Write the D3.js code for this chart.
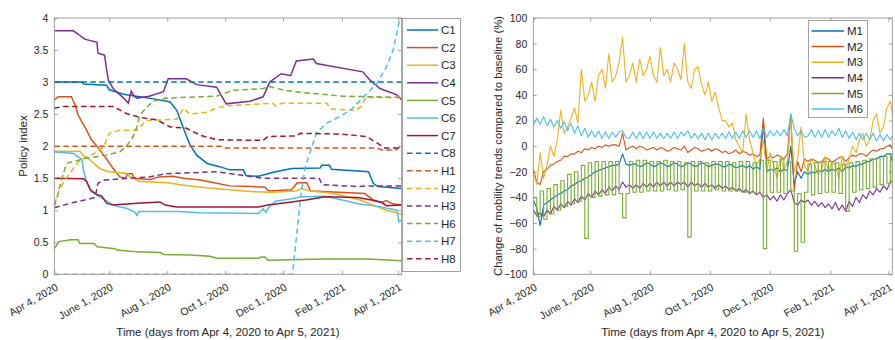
<!DOCTYPE html>
<html><head><meta charset="utf-8">
<script src="https://cdn.jsdelivr.net/npm/d3@7"></script>
<style>
body{margin:0;background:#fff}
svg{display:block}
text{font-family:"Liberation Sans",Arial,Helvetica,sans-serif;fill:#262626}
</style>
</head><body>
<svg id="c" width="895" height="340"></svg>
<script>
// ---------- shared tick data ----------
const tickDays   = [0, 58, 119, 180, 241, 303, 362];
const tickLabels = ["Apr 4, 2020","June 1, 2020","Aug 1, 2020","Oct 1, 2020","Dec 1, 2020","Feb 1, 2021","Apr 1, 2021"];
const policyTicks   = [0,0.5,1,1.5,2,2.5,3,3.5,4];
const mobilityTicks = [-100,-80,-60,-40,-20,0,20,40,60,80,100];

// ---------- left panel: policy index, [day, value] ----------
const policyNames = ["C1","C2","C3","C4","C5","C6","C7","C8","H1","H2","H3","H6","H7","H8"];
const C1 = [[0,3.0],[29,3.0],[31,2.97],[55,2.95],[58,2.88],[73,2.81],[90,2.77],[108,2.73],[122,2.69],[129,2.56],[134,2.36],[138,2.2],[143,2.02],[150,1.86],[161,1.73],[174,1.68],[185,1.63],[199,1.63],[202,1.54],[215,1.53],[233,1.6],[250,1.65],[280,1.66],[282,1.7],[290,1.7],[292,1.64],[331,1.6],[336,1.42],[341,1.37],[366,1.34]];
const C2 = [[0,2.72],[4,2.77],[18,2.77],[22,2.64],[25,2.49],[29,2.38],[34,2.25],[39,2.1],[45,2.0],[52,1.86],[57,1.76],[62,1.65],[69,1.52],[75,1.5],[77,1.57],[82,1.57],[84,1.5],[101,1.48],[110,1.52],[125,1.53],[136,1.5],[154,1.47],[171,1.42],[185,1.38],[208,1.37],[222,1.36],[226,1.3],[250,1.32],[256,1.43],[266,1.43],[270,1.3],[300,1.28],[327,1.26],[336,1.16],[345,1.12],[350,1.15],[356,1.1],[366,1.08]];
const C3 = [[0,1.92],[27,1.92],[30,1.86],[38,1.78],[48,1.65],[57,1.6],[74,1.58],[80,1.52],[90,1.45],[120,1.43],[136,1.39],[160,1.35],[185,1.32],[210,1.29],[230,1.28],[255,1.3],[260,1.34],[270,1.3],[290,1.27],[300,1.24],[322,1.16],[339,1.06],[350,1.0],[359,0.97],[366,0.93]];
const C4 = [[0,3.8],[20,3.8],[25,3.75],[32,3.67],[45,3.62],[46,3.45],[53,3.42],[55,3.2],[57,3.03],[62,2.9],[73,2.75],[78,2.67],[81,2.86],[84,2.78],[87,2.75],[100,2.78],[115,2.85],[120,3.05],[139,3.05],[150,2.96],[171,2.92],[181,2.66],[206,2.7],[220,2.77],[227,3.0],[239,3.13],[249,3.1],[255,3.33],[273,3.36],[276,3.29],[325,3.16],[332,3.04],[343,2.9],[361,2.8],[366,2.72]];
const C5 = [[0,0.4],[5,0.51],[17,0.54],[25,0.54],[27,0.48],[42,0.48],[45,0.43],[64,0.4],[66,0.38],[87,0.35],[112,0.34],[115,0.31],[143,0.3],[164,0.28],[171,0.25],[215,0.25],[218,0.27],[222,0.27],[225,0.22],[260,0.23],[285,0.24],[330,0.24],[366,0.21]];
const C6 = [[0,1.91],[20,1.89],[24,1.84],[29,1.8],[31,1.6],[34,1.45],[39,1.29],[45,1.24],[50,1.19],[59,1.11],[66,1.06],[76,1.03],[85,0.97],[87,0.92],[89,0.98],[130,0.98],[154,0.96],[215,0.95],[220,1.02],[223,0.97],[226,1.05],[233,1.14],[250,1.18],[260,1.21],[285,1.22],[300,1.17],[320,1.1],[341,1.06],[361,1.0],[363,0.82],[366,0.85]];
const C7 = [[0,1.5],[31,1.49],[34,1.45],[38,1.32],[45,1.24],[50,1.22],[55,1.11],[62,1.08],[87,1.11],[111,1.13],[117,1.08],[129,1.05],[215,1.05],[225,1.08],[250,1.13],[265,1.16],[285,1.21],[320,1.2],[334,1.16],[345,1.12],[350,1.07],[366,1.08]];
const C8 = [[0,3.0],[366,3.0]];
const H1 = [[0,2.0],[175,2.0],[178,1.97],[340,1.97],[345,1.94],[360,1.94],[363,1.98],[366,1.98]];
const H2 = [[0,1.1],[5,1.3],[10,1.45],[15,1.55],[20,1.65],[25,1.75],[29,1.8],[38,1.85],[46,1.92],[52,1.99],[58,2.2],[69,2.25],[87,2.25],[97,2.4],[129,2.42],[136,2.59],[143,2.5],[161,2.53],[171,2.6],[182,2.63],[230,2.67],[233,2.63],[240,2.67],[287,2.67],[291,2.58],[318,2.56],[323,2.62],[328,2.76],[366,2.76]];
const H3 = [[0,1.04],[20,1.12],[35,1.17],[43,1.2],[46,1.42],[52,1.47],[100,1.52],[118,1.57],[171,1.6],[196,1.55],[220,1.5],[259,1.5],[279,1.5],[282,1.4],[320,1.37],[328,1.38],[366,1.38]];
const H6 = [[0,1.06],[3,1.2],[6,1.39],[10,1.6],[13,1.73],[20,1.76],[30,1.8],[55,1.86],[69,1.91],[76,2.0],[83,2.15],[87,2.3],[90,2.48],[97,2.6],[104,2.7],[118,2.75],[171,2.78],[188,2.87],[220,2.9],[227,2.93],[240,2.88],[259,2.84],[304,2.78],[340,2.77],[366,2.76]];
const H7 = [[0,0],[251,0],[253,0.3],[256,0.7],[259,1.15],[264,1.65],[268,1.84],[276,2.2],[287,2.36],[298,2.44],[312,2.56],[326,2.77],[340,2.98],[350,3.24],[357,3.5],[363,3.92],[366,4.05]];
const H8 = [[0,2.59],[9,2.62],[62,2.62],[76,2.51],[90,2.45],[108,2.41],[122,2.3],[139,2.28],[154,2.17],[171,2.1],[220,2.09],[225,2.15],[255,2.16],[259,2.2],[300,2.19],[329,2.15],[340,2.05],[348,1.97],[366,1.97]];
const policySeries = [C1,C2,C3,C4,C5,C6,C7,C8,H1,H2,H3,H6,H7,H8];

// ---------- right panel: mobility (%), sampled twice a week ----------
const mobilityNames = ["M1","M2","M3","M4","M5","M6"];
const mDays = d3.range(0, 364.1, 3.5).concat([366]);
const M1 = [-42,-48,-62,-46,-44,-42,-40,-38,-37,-35,-34,-31,-30,-28,-27,-25,-24,-22,-20,-19,-18,-17,-16,-15,-15,-14,-6,-14,-15,-14,-14,-16,-15,-13,-14,-16,-15,-13,-14,-16,-15,-13,-14,-16,-15,-13,-14,-16,-15,-13,-14,-16,-15,-14,-14,-16,-16,-14,-15,-17,-16,-15,-17,-15,-18,-16,-18,18,-20,-18,-19,-17,-20,-18,-19,0,-30,-20,-25,-20,-22,-20,-21,-19,-20,-18,-20,-18,-19,-17,-20,-16,-17,-15,-16,-14,-14,-12,-12,-10,-10,-8,-8,-6,-6,-12];
const M2 = [-18,-28,-30,-20,-18,-15,-14,-12,-11,-8,-8,-6,-6,-4,-5,-2,-3,-1,-2,0,-1,1,0,1,1,0,10,-3,-1,0,-2,0,-1,-3,-2,-1,-3,-1,-2,-4,-3,-1,-2,-3,0,-5,-3,-1,-2,-4,-3,-2,-4,-2,-3,-5,-4,-6,-5,-3,-6,-4,-5,-7,-6,-8,-7,22,-10,-8,-9,-7,-8,-10,-6,25,-35,-12,-20,-10,-12,-10,-11,-13,-12,-9,-10,-13,-11,-9,-8,-12,-9,-7,-8,-6,-6,-8,-5,-3,-4,-2,-2,0,1,-2];
const M3 = [-20,-30,-5,-25,-15,0,-8,5,28,10,15,22,30,18,60,35,40,50,35,55,60,45,72,50,55,65,85,50,55,65,50,68,55,60,70,55,50,77,55,60,50,65,60,52,80,50,45,60,62,48,40,50,35,42,30,20,20,15,18,5,0,-5,25,5,-5,-15,-10,5,-20,-5,-15,-25,-8,-18,-12,20,-20,-10,15,-15,-20,-10,-15,-22,-18,-8,-20,-12,-15,-25,-8,-18,-10,0,-5,5,10,0,5,20,25,10,15,30,35,25];
const M4 = [-50,-54,-52,-55,-50,-53,-47,-50,-45,-48,-43,-46,-41,-44,-39,-42,-37,-40,-35,-38,-34,-37,-32,-35,-31,-34,-28,-32,-30,-33,-30,-33,-29,-32,-29,-32,-28,-31,-28,-31,-28,-31,-28,-30,-28,-32,-28,-31,-29,-32,-29,-32,-30,-33,-30,-33,-31,-34,-32,-35,-33,-36,-34,-37,-35,-38,-36,-40,-38,-42,-39,-43,-38,-42,-37,-34,-44,-46,-42,-44,-42,-46,-43,-47,-44,-48,-45,-49,-44,-50,-46,-51,-43,-47,-40,-44,-38,-41,-35,-38,-33,-36,-31,-34,-28,-27];
const M5 = [-40,-55,-35,-57,-33,-53,-30,-50,-27,-47,-22,-45,-20,-43,-15,-72,-13,-40,-12,-39,-12,-38,-12,-38,-12,-37,-56,-37,-12,-36,-11,-36,-11,-35,-12,-35,-12,-35,-11,-34,-12,-35,-12,-34,-13,-71,-12,-35,-12,-35,-13,-35,-12,-34,-12,-35,-12,-35,-13,-35,-12,-36,-12,-36,-13,-37,-11,-80,-11,-36,-12,-36,-10,-37,-12,-35,-82,-37,-75,-36,-14,-38,-13,-37,-12,-36,-12,-36,-13,-37,-14,-51,-13,-36,-12,-34,-11,-33,-10,-32,-9,-30,-8,-29,-6,-31];
const M6 = [16,22,17,23,16,21,15,20,14,19,12,18,10,16,8,14,7,12,7,12,6,11,6,11,7,11,12,7,6,11,6,11,6,11,6,11,6,10,6,10,6,11,6,11,8,12,6,10,6,10,5,10,5,10,6,10,6,11,6,11,6,12,7,12,7,12,6,14,7,12,8,12,8,13,8,25,14,8,12,7,8,13,7,12,7,13,7,12,8,14,7,12,6,11,5,10,5,10,5,10,4,9,4,9,5,8];
const mobilitySeries = [M1,M2,M3,M4,M5,M6];

// ---------- styles ----------
const matlab = ["#0072BD","#D95319","#EDB120","#7E2F8E","#77AC30","#4DBEEE","#A2142F"];
const policyColor = i => matlab[i < 7 ? i : (i - 7) % 7];
const policyDashed = i => i >= 7;
const mobilityCurve = i => i === 4 ? d3.curveStepAfter : d3.curveLinear;
const axisColor = "#8a8a8a";

const svg = d3.select("#c");

function panel(opt){
  const {x, y, ticksY, fmtY, clipId} = opt;
  const g = svg.append("g");
  const [x0, x1] = x.range(), [y0, y1] = y.range();
  g.append("clipPath").attr("id", clipId).append("rect")
    .attr("x", x0).attr("y", y1).attr("width", x1 - x0).attr("height", y0 - y1);
  const style = sel => {
    sel.select(".domain").remove();
    sel.selectAll(".tick line").attr("stroke", axisColor).attr("stroke-width", 0.8);
  };
  const gb = g.append("g").attr("transform", `translate(0,${y0})`)
    .call(d3.axisBottom(x).tickValues(tickDays).tickSize(-3.5).tickFormat(""));
  style(gb);
  gb.selectAll(".tick").append("text")
    .attr("transform", "translate(4,15) rotate(-30)")
    .attr("text-anchor", "end").attr("font-size", "10.5px")
    .text((d, i) => tickLabels[i]);
  const gt = g.append("g").attr("transform", `translate(0,${y1})`)
    .call(d3.axisTop(x).tickValues(tickDays).tickSize(-3.5).tickFormat(""));
  style(gt);
  const gl = g.append("g").attr("transform", `translate(${x0},0)`)
    .call(d3.axisLeft(y).tickValues(ticksY).tickSize(-3.5).tickPadding(6).tickFormat(fmtY));
  style(gl);
  gl.selectAll(".tick text").attr("font-size", "10.5px").attr("fill", "#262626")
    .style("font-family", '"Liberation Sans",Arial,sans-serif');
  const gr = g.append("g").attr("transform", `translate(${x1},0)`)
    .call(d3.axisRight(y).tickValues(ticksY).tickSize(-3.5).tickFormat(""));
  style(gr);
  return g;
}

// ---------- left panel ----------
const xL = d3.scaleLinear().domain([0, 366]).range([54.3, 401.7]);
const yL = d3.scaleLinear().domain([0, 4]).range([274.3, 18]);
const gL = panel({x: xL, y: yL, ticksY: policyTicks, fmtY: d3.format("~g"), clipId: "clipL"});
const lineL = d3.line().x(d => xL(d[0])).y(d => yL(d[1]));
const plotL = gL.append("g").attr("clip-path", "url(#clipL)");
policySeries.forEach((s, i) => {
  plotL.append("path").attr("d", lineL(s)).attr("fill", "none")
    .attr("stroke", policyColor(i)).attr("stroke-width", 1.5)
    .attr("stroke-dasharray", policyDashed(i) ? "5.5,3.5" : null);
});
gL.append("rect").attr("x", 54.3).attr("y", 18).attr("width", 347.4).attr("height", 256.3)
  .attr("fill", "none").attr("stroke", axisColor).attr("stroke-width", 0.8);
gL.append("text").attr("transform", "translate(27,146) rotate(-90)")
  .attr("text-anchor", "middle").attr("font-size", "11.5px").text("Policy index");
gL.append("text").attr("x", 228).attr("y", 336)
  .attr("text-anchor", "middle").attr("font-size", "11.5px")
  .text("Time (days from Apr 4, 2020 to Apr 5, 2021)");

const legL = svg.append("g");
legL.append("rect").attr("x", 402.5).attr("y", 18.5).attr("width", 58).attr("height", 253)
  .attr("fill", "#fff").attr("stroke", axisColor).attr("stroke-width", 0.8);
policyNames.forEach((n, i) => {
  const yy = 30 + i * 17.6;
  legL.append("line").attr("x1", 407).attr("x2", 438).attr("y1", yy).attr("y2", yy)
    .attr("stroke", policyColor(i)).attr("stroke-width", 1.5)
    .attr("stroke-dasharray", policyDashed(i) ? "5.5,3.5" : null);
  legL.append("text").attr("x", 441).attr("y", yy + 4.2).attr("font-size", "11.5px").text(n);
});

// ---------- right panel ----------
const xR = d3.scaleLinear().domain([0, 366]).range([533.3, 892.3]);
const yR = d3.scaleLinear().domain([-100, 100]).range([274.3, 18]);
const gR = panel({x: xR, y: yR, ticksY: mobilityTicks, fmtY: d3.format("d"), clipId: "clipR"});
const plotR = gR.append("g").attr("clip-path", "url(#clipR)");
mobilitySeries.forEach((s, i) => {
  const pts = s.map((v, j) => [mDays[j], v]);
  plotR.append("path")
    .attr("d", d3.line().curve(mobilityCurve(i)).x(d => xR(d[0])).y(d => yR(d[1]))(pts))
    .attr("fill", "none").attr("stroke", matlab[i]).attr("stroke-width", 1.1)
    .attr("stroke-linejoin", "round");
});
gR.append("rect").attr("x", 533.3).attr("y", 18).attr("width", 359).attr("height", 256.3)
  .attr("fill", "none").attr("stroke", axisColor).attr("stroke-width", 0.8);
gR.append("text").attr("transform", "translate(501.5,146) rotate(-90)")
  .attr("text-anchor", "middle").attr("font-size", "11.3px")
  .text("Change of mobility trends compared to baseline (%)");
gR.append("text").attr("x", 712.8).attr("y", 336)
  .attr("text-anchor", "middle").attr("font-size", "11.5px")
  .text("Time (days from Apr 4, 2020 to Apr 5, 2021)");

const legR = svg.append("g");
legR.append("rect").attr("x", 808.5).attr("y", 20.5).attr("width", 59).attr("height", 97)
  .attr("fill", "#fff").attr("stroke", axisColor).attr("stroke-width", 0.8);
mobilityNames.forEach((n, i) => {
  const yy = 31 + i * 15.6;
  legR.append("line").attr("x1", 811.5).attr("x2", 844).attr("y1", yy).attr("y2", yy)
    .attr("stroke", matlab[i]).attr("stroke-width", 1.5);
  legR.append("text").attr("x", 847).attr("y", yy + 4.2).attr("font-size", "11.5px").text(n);
});
</script>
</body></html>
